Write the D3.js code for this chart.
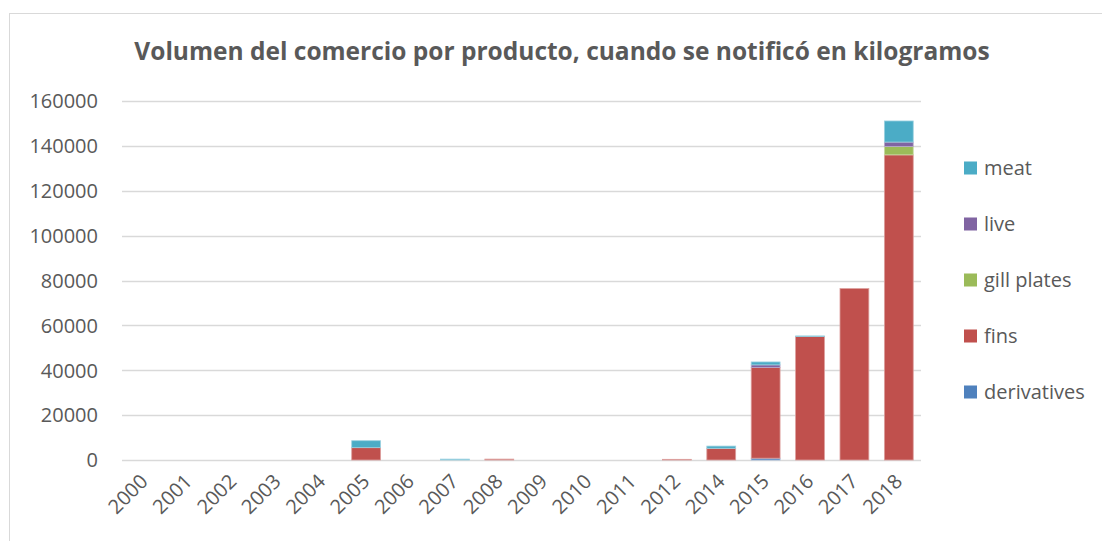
<!DOCTYPE html>
<html><head><meta charset="utf-8">
<script src="https://cdn.jsdelivr.net/npm/d3@7"></script>
<style>body{margin:0;background:#fff;} text{font-family:"Open Sans","Liberation Sans",sans-serif;fill:#595959;}</style>
</head><body>
<svg id="c" width="1102" height="541"></svg>
<script>
const years = ["2000","2001","2002","2003","2004","2005","2006","2007","2008","2009","2010","2011","2012","2014","2015","2016","2017","2018"];
const seriesNames = ["derivatives","fins","gill plates","live","meat"];
const derivatives = [0,0,0,0,0,0,0,0,0,0,0,0,0,0,800,0,0,0];
const fins        = [0,0,0,0,0,5500,0,0,400,0,0,0,300,5200,40400,55000,76400,136000];
const gillPlates  = [0,0,0,0,0,0,0,0,0,0,0,0,0,0,0,0,0,3700];
const live        = [0,0,0,0,0,0,0,0,0,0,0,0,0,0,1200,0,0,2000];
const meat        = [0,0,0,0,0,3100,0,400,0,0,0,0,0,1000,1300,300,0,9400];
const yTicks = [0,20000,40000,60000,80000,100000,120000,140000,160000];
const colors = ["#4F81BD","#C0504D","#9BBB59","#8064A2","#4BACC6"];
const title = "Volumen del comercio por producto, cuando se notificó en kilogramos";

const valuesBySeries = [derivatives, fins, gillPlates, live, meat];
const table = years.map((y,i)=>{const o={year:y}; seriesNames.forEach((s,k)=>o[s]=valuesBySeries[k][i]); return o;});
const stack = d3.stack().keys(seriesNames)(table);

const svg = d3.select("#c");
svg.append("rect").attr("x",9.5).attr("y",13.5).attr("width",1110).attr("height",540)
  .attr("fill","none").attr("stroke","#d9d9d9");

const x = d3.scaleBand().domain(years).range([122,921]).paddingInner(0.35).paddingOuter(0.175);
const y = d3.scaleLinear().domain([0,160000]).range([460,101]);

svg.append("text").attr("x",562).attr("y",60).attr("text-anchor","middle")
  .style("font-size","24.5px").style("font-weight","bold").text(title);

const grid = svg.append("g");
grid.selectAll("line").data(yTicks).join("line")
  .attr("x1",122).attr("x2",921).attr("y1",d=>Math.round(y(d))+0.5).attr("y2",d=>Math.round(y(d))+0.5)
  .attr("stroke","#d9d9d9").attr("stroke-width",1.3);

const yAxis = svg.append("g").attr("transform","translate(108,0)")
  .call(d3.axisLeft(y).tickValues(yTicks).tickFormat(d3.format("d")).tickSize(0).tickPadding(10));
yAxis.select(".domain").remove();
yAxis.selectAll("text").style("font-size","20px").attr("fill","#595959").attr("dy","0.34em");

const bars = svg.append("g");
stack.forEach((s,k)=>{
  const edge = d3.interpolateRgb(colors[k], "#ffffff")(0.45);
  bars.append("g").attr("fill",colors[k]).selectAll("rect").data(s.filter(d=>d[1]>d[0])).join("rect")
    .attr("x",d=>x(d.data.year)).attr("width",x.bandwidth())
    .attr("y",d=>y(d[1])).attr("height",d=>Math.max(0,y(d[0])-y(d[1])))
    .attr("stroke",edge).attr("stroke-width",0.8);
});

const xAxis = svg.append("g").attr("transform","translate(0,460)")
  .call(d3.axisBottom(x).tickSize(0).tickPadding(0));
xAxis.select(".domain").remove();
xAxis.selectAll("text").style("font-size","20px").attr("fill","#595959")
  .attr("text-anchor","end").attr("dy",null)
  .attr("transform","translate(1,19) rotate(-45)")
  .attr("x",0).attr("y",0).attr("dominant-baseline","middle");

const legendOrder = [4,3,2,1,0];
const leg = svg.append("g");
legendOrder.forEach((k,i)=>{
  const gy = 168 + i*56;
  leg.append("rect").attr("x",964).attr("y",gy-6.5).attr("width",13).attr("height",13).attr("fill",colors[k]);
  leg.append("text").attr("x",984).attr("y",gy).attr("dy","0.35em").style("font-size","20px").text(seriesNames[k]);
});
</script>
</body></html>
